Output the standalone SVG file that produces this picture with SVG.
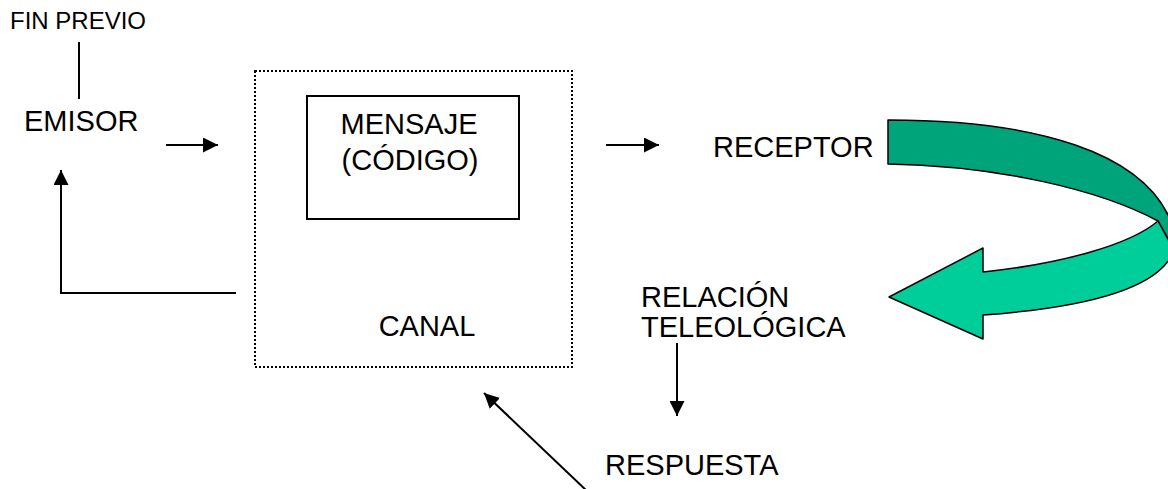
<svg xmlns="http://www.w3.org/2000/svg" width="1168" height="489" viewBox="0 0 1168 489">
<style>
text{font-family:"Liberation Sans",Arial,sans-serif;fill:#000}
.t{font-size:29px}
.s{font-size:24px}
.c{text-anchor:middle}
.ln{fill:none;stroke:#000;stroke-width:2}
.band{stroke:#000;stroke-width:1.5;stroke-linejoin:round}
</style>
<defs>
<marker id="ah" viewBox="0 0 15 15" refX="15" refY="7.5" markerWidth="15" markerHeight="15" markerUnits="userSpaceOnUse" orient="auto">
<path d="M0,0 L15,7.5 L0,15 Z" fill="#000"/>
</marker>
</defs>
<rect width="1168" height="489" fill="#fff"/>
<g id="connectors">
<path class="ln" d="M79,42 V99"/>
<path class="ln" d="M166,145 H218" marker-end="url(#ah)"/>
<path class="ln" d="M606,145 H659" marker-end="url(#ah)"/>
<path class="ln" d="M236,293 H61 V170" marker-end="url(#ah)"/>
<path class="ln" d="M677,343 V416" marker-end="url(#ah)"/>
<path class="ln" d="M588,492 L484,393" marker-end="url(#ah)"/>
</g>
<g id="fin-previo"><text class="s" x="10" y="29">FIN PREVIO</text></g>
<g id="emisor"><text class="t" x="24" y="131">EMISOR</text></g>
<g id="canal">
<rect x="255" y="71" width="317" height="296" fill="none" stroke="#000" stroke-width="2" stroke-dasharray="2 2"/>
<text class="t c" x="427" y="336">CANAL</text>
</g>
<g id="mensaje">
<rect x="307" y="96" width="212" height="123" fill="none" stroke="#000" stroke-width="2"/>
<text class="t c" x="409" y="134">MENSAJE</text>
<text class="t c" x="410" y="170">(CÓDIGO)</text>
</g>
<g id="receptor"><text class="t" x="713" y="157">RECEPTOR</text></g>
<g id="curved-arrow">
<path class="band" fill="#00A47B" d="M888,120 C1030,120 1150,150 1174,230 L1174,250 L1158,221 C1100,190 1000,166 888,164 Z"/>
<path class="band" fill="#00CE9A" d="M1158,221 L1174,250 C1160,290 1080,308 983,315 L983,339 L889,297 L983,248 L983,272 C1060,264 1130,245 1158,221 Z"/>
</g>
<g id="relacion">
<text class="t" x="641" y="307">RELACIÓN</text>
<text class="t" x="641" y="337">TELEOLÓGICA</text>
</g>
<g id="respuesta"><text class="t" x="605" y="475">RESPUESTA</text></g>
</svg>
